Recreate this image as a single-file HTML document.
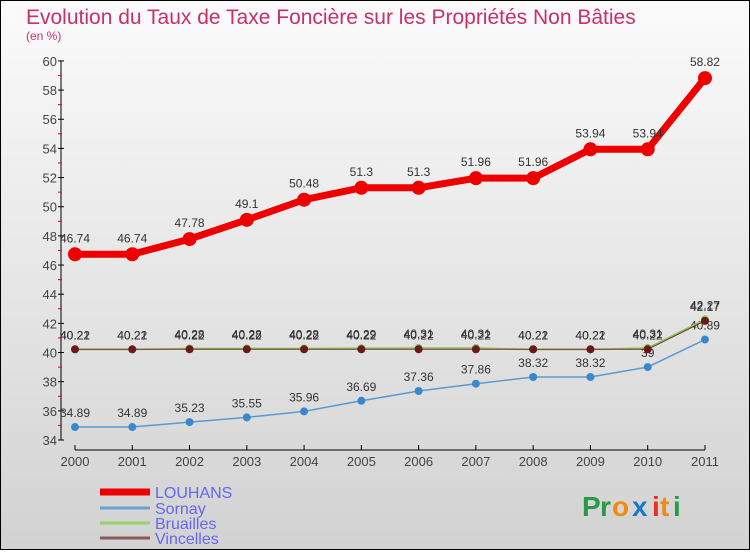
<!DOCTYPE html>
<html><head><meta charset="utf-8"><style>
body{margin:0;width:750px;height:550px;overflow:hidden;font-family:"Liberation Sans",sans-serif}
</style></head><body>
<svg width="750" height="550" xmlns="http://www.w3.org/2000/svg">
<defs><linearGradient id="bg" x1="0" y1="0" x2="0" y2="1"><stop offset="0" stop-color="#fbfbfb"/><stop offset="1" stop-color="#d2d2d2"/></linearGradient></defs>
<rect x="0.5" y="0.5" width="749" height="549" fill="url(#bg)" stroke="#000"/>
<text x="26" y="24" font-size="21" fill="#c8306a">Evolution du Taux de Taxe Foncière sur les Propriétés Non Bâties</text>
<text x="26" y="40" font-size="12" fill="#c8306a">(en %)</text>
<g id="axes"></g><g id="series"></g>
<g>
<line x1="100" y1="492" x2="150" y2="492" stroke="#e00" stroke-width="7"/>
<text x="155" y="498" font-size="16" fill="#6666ee">LOUHANS</text>
<line x1="100" y1="508" x2="150" y2="508" stroke="#6aa0cc" stroke-width="3"/>
<text x="155" y="514" font-size="16" fill="#6666ee">Sornay</text>
<line x1="100" y1="523" x2="150" y2="523" stroke="#99d070" stroke-width="3"/>
<text x="155" y="529" font-size="16" fill="#6666ee">Bruailles</text>
<line x1="100" y1="538" x2="150" y2="538" stroke="#8a5a5a" stroke-width="3"/>
<text x="155" y="544" font-size="16" fill="#6666ee">Vincelles</text>
</g>
<g font-size="28" font-weight="bold">
<text x="582" y="516" fill="#2a9a4a">P</text><text x="600" y="516" fill="#2a9a4a">r</text><text x="612" y="516" fill="#f08a10">o</text><text x="632" y="516" fill="#1a78c8">x</text><text x="652" y="516" fill="#e83020">i</text><text x="660" y="516" fill="#f08a10">t</text><text x="673" y="516" fill="#2a9a4a">i</text>
</g>
</svg>
<script>
const years=["2000","2001","2002","2003","2004","2005","2006","2007","2008","2009","2010","2011"];
const louhans=[46.74,46.74,47.78,49.1,50.48,51.3,51.3,51.96,51.96,53.94,53.94,58.82];
const sornay=[34.89,34.89,35.23,35.55,35.96,36.69,37.36,37.86,38.32,38.32,39,40.89];
const bruailles=[40.21,40.21,40.28,40.28,40.28,40.29,40.31,40.31,40.21,40.21,40.31,42.27];
const vincelles=[40.22,40.22,40.22,40.22,40.22,40.22,40.22,40.22,40.22,40.22,40.22,42.17];
const yTicks=[34,36,38,40,42,44,46,48,50,52,54,56,58,60];
const NS="http://www.w3.org/2000/svg";
const x=i=>75+i*57.27, y=v=>440-(v-34)*14.58;
function mk(p,t,a){const e=document.createElementNS(NS,t);for(const k in a)e.setAttribute(k,a[k]);p.appendChild(e);return e;}
const ax=document.getElementById('axes'), sg=document.getElementById('series');
let e=mk(ax,'line',{x1:61,y1:y(60),x2:61,y2:y(34),stroke:'#000'});


yTicks.forEach(t=>{mk(ax,'line',{x1:58,y1:y(t),x2:64,y2:y(t),stroke:'#000'});
 if(t<60)mk(ax,'line',{x1:58,y1:y(t+1),x2:62,y2:y(t+1),stroke:'#e00'});
 e=mk(ax,'text',{x:57,y:y(t)+5,'text-anchor':'end','font-size':13,fill:'#444'});e.textContent=t;
 
 });
e=mk(ax,'line',{x1:x(0),y1:450,x2:x(11),y2:450,stroke:'#000'});


years.forEach((yr,i)=>{mk(ax,'line',{x1:x(i),y1:445,x2:x(i),y2:450,stroke:'#000'});
 e=mk(ax,'text',{x:x(i),y:466,'text-anchor':'middle','font-size':13,fill:'#444'});e.textContent=yr;
 
 });
function series(vals,color,w,r,name,dot,labDy){
 const g=mk(sg,'g',{});
 
 
 mk(g,'polyline',{points:vals.map((v,i)=>x(i)+','+y(v)).join(' '),fill:'none',stroke:color,'stroke-width':w,'stroke-linejoin':'round'});
 vals.forEach((v,i)=>{const c=mk(g,'circle',{cx:x(i),cy:y(v),r:r,fill:dot});
  
  
  const t=mk(g,'text',{x:x(i),y:y(v)+labDy,'text-anchor':'middle','font-size':12,fill:'#333'});t.textContent=v;
  
  });
}
series(sornay,'#5a9ad0',1.5,4,'sornay-series','#3a88cc',-10);
series(bruailles,'#80c850',1.5,4,'bruailles-series','#80c850',-10);
series(vincelles,'#7a3030',1,4,'vincelles-series','#6a1a1a',-10);
series(louhans,'#ee0000',7,7,'louhans-series','#ee0000',-12);
</script>
</body></html>
